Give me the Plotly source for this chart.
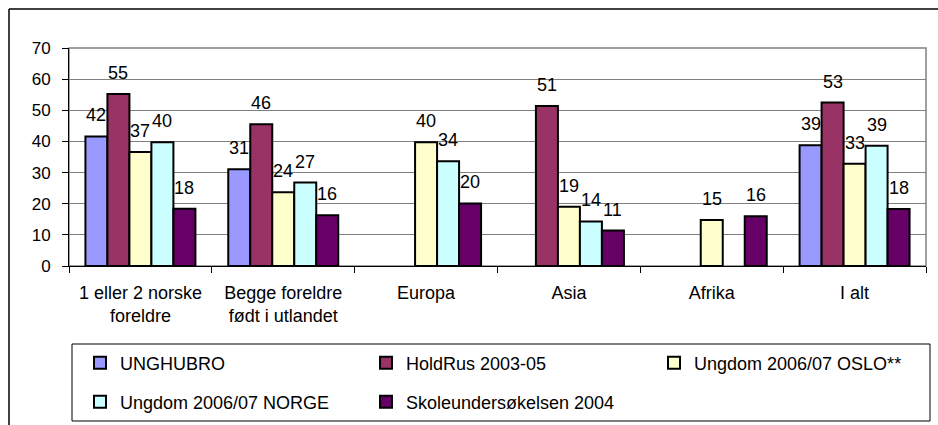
import plotly.graph_objects as go

categories = ["1 eller 2 norske<br>foreldre", "Begge foreldre<br>født i utlandet",
              "Europa", "Asia", "Afrika", "I alt"]
series_names = ["UNGHUBRO", "HoldRus 2003-05", "Ungdom 2006/07 OSLO**",
                "Ungdom 2006/07 NORGE", "Skoleundersøkelsen 2004"]
unghubro = [41.6, 31.1, None, None, None, 38.8]
holdrus = [55.2, 45.5, None, 51.4, None, 52.5]
oslo = [36.6, 23.7, 39.7, 19.0, 14.8, 32.8]
norge = [39.7, 26.8, 33.6, 14.3, None, 38.6]
skole = [18.4, 16.3, 20.1, 11.4, 16.0, 18.3]
y_ticks = [0, 10, 20, 30, 40, 50, 60, 70]

colors = ["#9999FF", "#993366", "#FFFFCC", "#CCFFFF", "#660066"]
all_series = [unghubro, holdrus, oslo, norge, skole]

W, H = 938, 425
ML, MR, MT, MB = 69, 12, 48, 159
PW, PH = W - ML - MR, H - MT - MB
BARGAP = 0.23
FONT = "Arial, Liberation Sans, sans-serif"


def px_x(px):
    return (px - ML) / PW


def px_y(py):
    return (H - MB - py) / PH


fig = go.Figure()
legend_pos = [(80, 363), (366, 363), (654, 363), (80, 402), (366, 402)]
for i, (name, vals, col) in enumerate(zip(series_names, all_series, colors)):
    lg = "legend" if i == 0 else f"legend{i+1}"
    fig.add_trace(go.Bar(
        name=name, x=categories, y=vals,
        marker=dict(color=col, line=dict(color="black", width=2)),
        legend=lg,
    ))

bar_px = PW / len(categories) * (1 - BARGAP) / len(all_series)
annotations = []
for i, vals in enumerate(all_series):
    for c, v in zip(categories, vals):
        if v is None:
            continue
        annotations.append(dict(
            x=c, y=v, xref="x", yref="y", text=str(int(v + 0.5)),
            showarrow=False, xshift=(i - 2) * bar_px, yshift=21,
            yanchor="middle", xanchor="center",
            font=dict(family=FONT, size=18, color="black"),
        ))

shapes = [
    # plot area border (gray)
    dict(type="rect", xref="paper", yref="paper", x0=0, x1=1, y0=0, y1=1,
         line=dict(color="#808080", width=1.5), layer="below"),
    # outer chart frame (left and top visible)
    dict(type="line", xref="paper", yref="paper", x0=px_x(9), x1=px_x(9),
         y0=px_y(9), y1=px_y(430), line=dict(color="black", width=1.5)),
    dict(type="line", xref="paper", yref="paper", x0=px_x(9), x1=px_x(945),
         y0=px_y(9), y1=px_y(9), line=dict(color="black", width=1.5)),
    # legend box
    dict(type="rect", xref="paper", yref="paper", x0=px_x(72), x1=px_x(930),
         y0=px_y(344), y1=px_y(421), line=dict(color="black", width=1)),
]

layout_legends = {}
for i, (lx, ly) in enumerate(legend_pos):
    key = "legend" if i == 0 else f"legend{i+1}"
    layout_legends[key] = dict(
        xref="container", yref="container",
        x=lx / W, y=1 - ly / H, xanchor="left", yanchor="middle",
        bgcolor="rgba(0,0,0,0)", borderwidth=0,
        font=dict(family=FONT, size=18, color="black"),
    )

fig.update_layout(
    width=W, height=H,
    margin=dict(l=ML, r=MR, t=MT, b=MB, pad=0, autoexpand=False),
    paper_bgcolor="white", plot_bgcolor="white",
    barmode="group", bargap=BARGAP, bargroupgap=0,
    font=dict(family=FONT, size=17, color="black"),
    showlegend=True,
    annotations=annotations,
    shapes=shapes,
    xaxis=dict(
        type="category", showline=True, linecolor="black", linewidth=1,
        ticks="outside", tickson="boundaries", ticklen=6, tickcolor="black",
        tickfont=dict(family=FONT, size=18, color="black"),
        showgrid=False, ticklabelstandoff=10,
    ),
    yaxis=dict(
        range=[0, 70], tickvals=y_ticks, showline=True, linecolor="black",
        linewidth=1, ticks="outside", ticklen=6, tickcolor="black",
        gridcolor="#808080", gridwidth=1.2, zeroline=False,
        tickfont=dict(family=FONT, size=17, color="black"),
        ticklabelstandoff=8,
    ),
    **layout_legends,
)

fig.write_html(
    "out.html",
    config={"displayModeBar": False},
    post_script="document.body.style.margin='0';document.body.style.overflow='hidden';",
)
